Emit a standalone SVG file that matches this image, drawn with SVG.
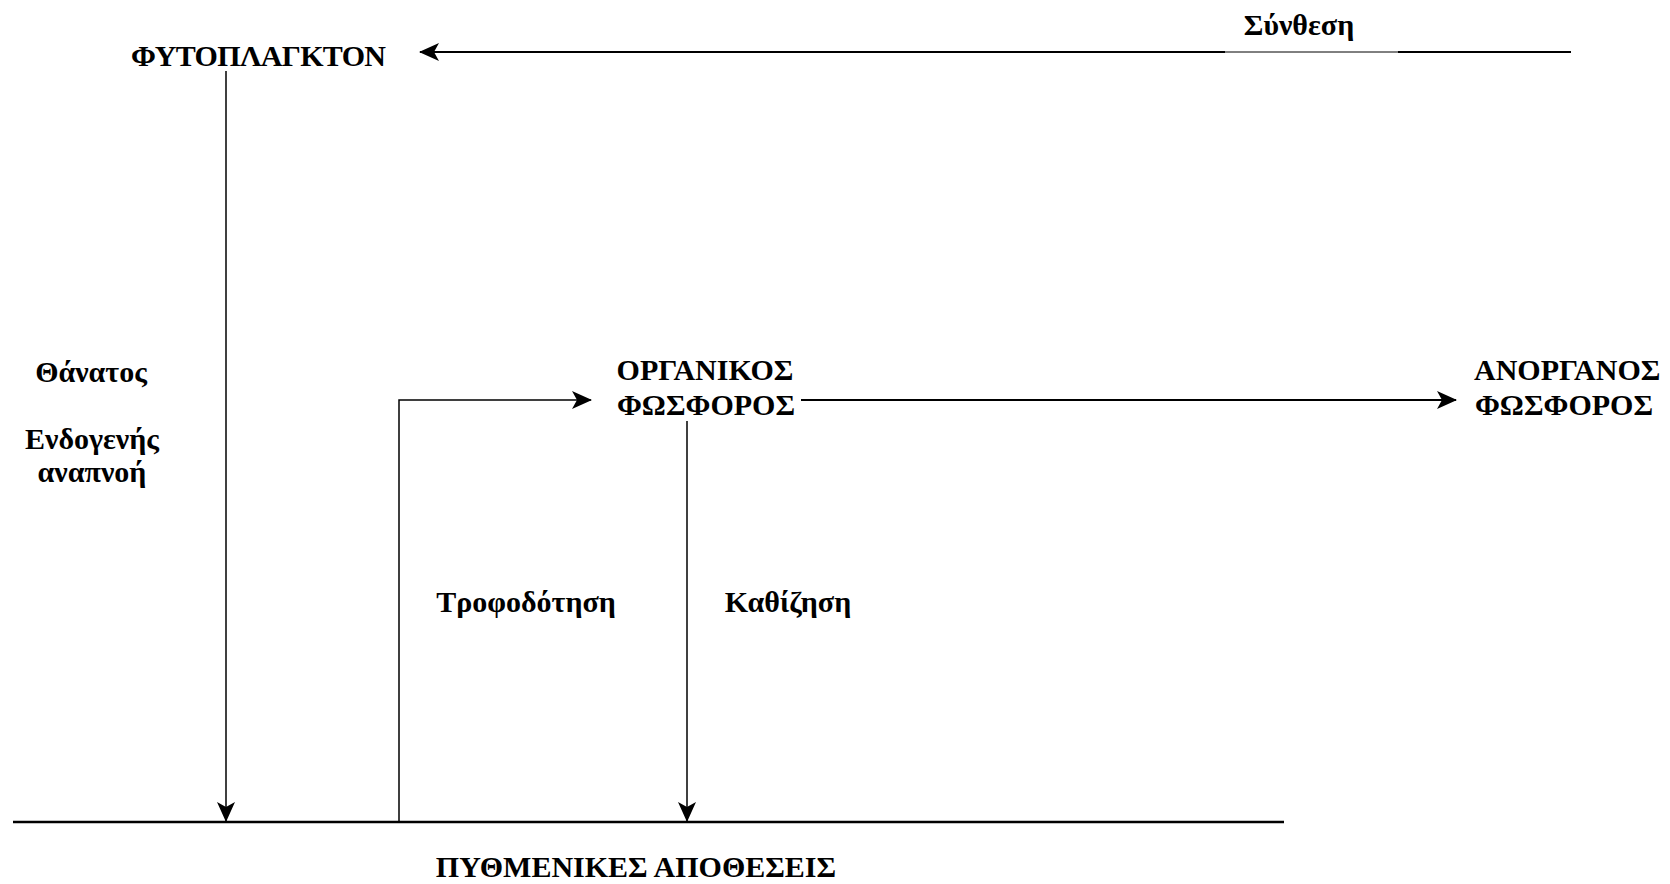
<svg xmlns="http://www.w3.org/2000/svg" width="1670" height="884" viewBox="0 0 1670 884">
<style>
.t{font-family:"Liberation Serif","Times New Roman",serif;font-weight:bold;font-size:30px;fill:#000}
.c{text-anchor:middle}
.ln{stroke:#000;stroke-width:2;fill:none}
.thin{stroke:#000;stroke-width:1.5;fill:none}
</style>
<defs>
<marker id="ah" viewBox="0 0 20 18" refX="19" refY="9" markerWidth="20" markerHeight="18" markerUnits="userSpaceOnUse" orient="auto">
<path d="M0,0 L20,9 L0,18 L5,9 z" fill="#000"/>
</marker>
</defs>
<rect width="1670" height="884" fill="#fff"/>
<g id="connectors">
<line class="ln" x1="1571" y1="52" x2="1398" y2="52"/>
<line x1="1398" y1="52" x2="1225" y2="52" stroke="#000" stroke-width="1"/>
<line class="ln" x1="1225" y1="52" x2="420" y2="52" marker-end="url(#ah)"/>
<line class="thin" x1="226" y1="71" x2="226" y2="821" marker-end="url(#ah)"/>
<polyline class="thin" points="399,821 399,400 591,400" marker-end="url(#ah)"/>
<line class="ln" x1="801" y1="400" x2="1456" y2="400" marker-end="url(#ah)"/>
<line class="thin" x1="687" y1="421" x2="687" y2="821" marker-end="url(#ah)"/>
<line x1="13" y1="822" x2="1284" y2="822" stroke="#000" stroke-width="2.5"/>
</g>
<g id="fytoplagkton"><text class="t" x="131" y="66" textLength="255">ΦΥΤΟΠΛΑΓΚΤΟΝ</text></g>
<g id="synthesi"><text class="t c" x="1299" y="35">Σύνθεση</text></g>
<g id="thanatos"><text class="t c" x="91" y="382">Θάνατος</text></g>
<g id="endogenis"><text class="t c" x="92" y="449">Ενδογενής</text><text class="t c" x="92" y="482">αναπνοή</text></g>
<g id="organikos"><text class="t c" x="705" y="380">ΟΡΓΑΝΙΚΟΣ</text><text class="t c" x="706" y="415">ΦΩΣΦΟΡΟΣ</text></g>
<g id="anorganos"><text class="t" x="1474" y="380">ΑΝΟΡΓΑΝΟΣ</text><text class="t" x="1475" y="415">ΦΩΣΦΟΡΟΣ</text></g>
<g id="trofodotisi"><text class="t c" x="526" y="612">Τροφοδότηση</text></g>
<g id="kathizisi"><text class="t c" x="788" y="612">Καθίζηση</text></g>
<g id="pythmenikes"><text class="t c" x="636" y="877">ΠΥΘΜΕΝΙΚΕΣ ΑΠΟΘΕΣΕΙΣ</text></g>
</svg>
